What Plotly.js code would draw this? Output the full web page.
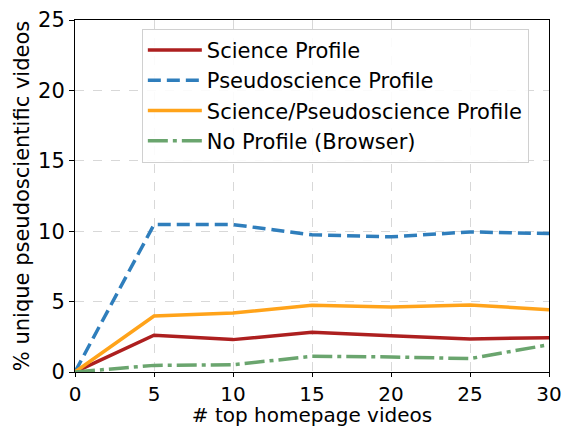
<!DOCTYPE html>
<html><head><meta charset="utf-8">
<script src="https://cdn.plot.ly/plotly-3.0.1.min.js"></script>
<style>html,body{margin:0;padding:0;background:#fff;overflow:hidden;}#chart{width:564px;height:427px;}</style>
</head><body><div id="chart"></div>
<script>
const xVals = [0, 5, 10, 15, 20, 25, 30];
const scienceProfile = [0, 2.61, 2.30, 2.82, 2.58, 2.35, 2.44];
const pseudoProfile = [0, 10.47, 10.47, 9.74, 9.60, 9.95, 9.83];
const mixedProfile = [0, 3.98, 4.19, 4.74, 4.62, 4.76, 4.43];
const noProfile = [0, 0.47, 0.52, 1.11, 1.07, 0.95, 1.94];
const seriesNames = ["Science Profile", "Pseudoscience Profile", "Science/Pseudoscience Profile", "No Profile (Browser)"];

const traces = [
  {x: xVals, y: scienceProfile, name: seriesNames[0], mode: "lines", line: {color: "#ad1f1f", width: 3.5}},
  {x: xVals, y: pseudoProfile, name: seriesNames[1], mode: "lines", line: {color: "#2f7ebc", width: 3.5, dash: "13px,6px"}},
  {x: xVals, y: mixedProfile, name: seriesNames[2], mode: "lines", line: {color: "#ffa31a", width: 3.5}},
  {x: xVals, y: noProfile, name: seriesNames[3], mode: "lines", line: {color: "#6aa56e", width: 3.5, dash: "20px,5px,4px,5px"}}
];

const layout = {
  width: 564, height: 427,
  margin: {l: 75, r: 15, t: 20, b: 55},
  paper_bgcolor: "#fff", plot_bgcolor: "#fff",
  font: {family: "DejaVu Sans", color: "#000", size: 21},
  showlegend: true,
  legend: {x: 0.141, y: 0.975, xanchor: "left", yanchor: "top", bgcolor: "rgba(255,255,255,0.9)", bordercolor: "#d0d0d0", borderwidth: 1, font: {size: 21}, tracegroupgap: 0, itemwidth: 54},
  xaxis: {range: [0, 30], tickvals: [0,5,10,15,20,25,30], showline: true, linecolor: "#000", linewidth: 1, mirror: true, ticks: "outside", ticklen: 4, tickcolor: "#000", showgrid: true, gridcolor: "#d8d8d8", griddash: "dash", zeroline: false, tickfont: {size: 20}, title: {text: "# top homepage videos", font: {size: 20}, standoff: 8}},
  yaxis: {range: [0, 25], tickvals: [0,5,10,15,20,25], showline: true, linecolor: "#000", linewidth: 1, mirror: true, ticks: "outside", ticklen: 5, tickcolor: "#000", showgrid: true, gridcolor: "#d8d8d8", griddash: "dash", zeroline: false, tickfont: {size: 21}, title: {text: "% unique pseudoscientific videos", font: {size: 21}, standoff: 2}}
};
Plotly.newPlot("chart", traces, layout, {displayModeBar: false, staticPlot: true});
</script></body></html>
